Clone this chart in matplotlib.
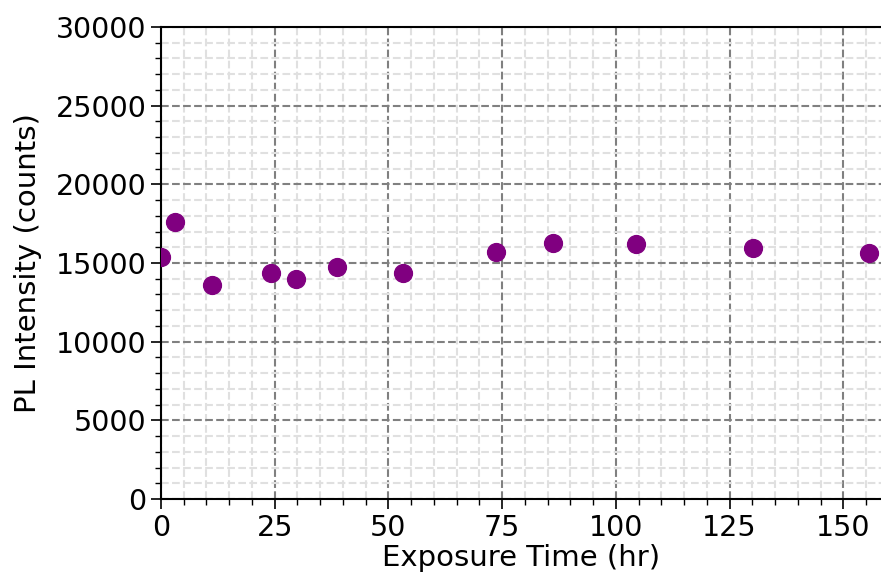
import matplotlib
matplotlib.use('Agg')
import matplotlib.pyplot as plt
from matplotlib.ticker import MultipleLocator

plt.rcParams['font.family'] = ['DejaVu Sans']
plt.rcParams['font.size'] = 21

# Exposure time (hr) and PL intensity (counts)
time_hr = [0.0, 3.1, 11.3, 24.1, 29.7, 38.8, 53.3, 73.7, 86.1, 104.5, 130.1, 155.6]
pl_counts = [15400, 17630, 13600, 14390, 13990, 14750, 14350, 15680, 16290, 16190, 15940, 15660]

fig = plt.figure(figsize=(8.81, 5.81), dpi=100)
ax = fig.add_axes([161 / 881, 82 / 581, 720 / 881, 472 / 581])

ax.scatter(time_hr, pl_counts, s=165, color='purple', zorder=3)

ax.set_xlim(0, 158.3)
ax.set_ylim(0, 30000)
ax.xaxis.set_major_locator(MultipleLocator(25))
ax.xaxis.set_minor_locator(MultipleLocator(5))
ax.yaxis.set_major_locator(MultipleLocator(5000))
ax.yaxis.set_minor_locator(MultipleLocator(1000))

ax.grid(which='major', linestyle='--', color='#808080', linewidth=1.5)
ax.grid(which='minor', linestyle='--', color='#e0e0e0', linewidth=1.5)
ax.set_axisbelow(True)

ax.tick_params(which='major', length=7, width=1.2, direction='out', labelsize=20.5)
ax.tick_params(which='minor', length=4, width=1.0, direction='out')
for s in ['left', 'bottom', 'top']:
    ax.spines[s].set_linewidth(1.5)
ax.spines['right'].set_visible(False)

ax.set_xlabel('Exposure Time (hr)', labelpad=2)
ax.set_ylabel('PL Intensity (counts)', labelpad=10)

fig.savefig('out.png', dpi=100)
